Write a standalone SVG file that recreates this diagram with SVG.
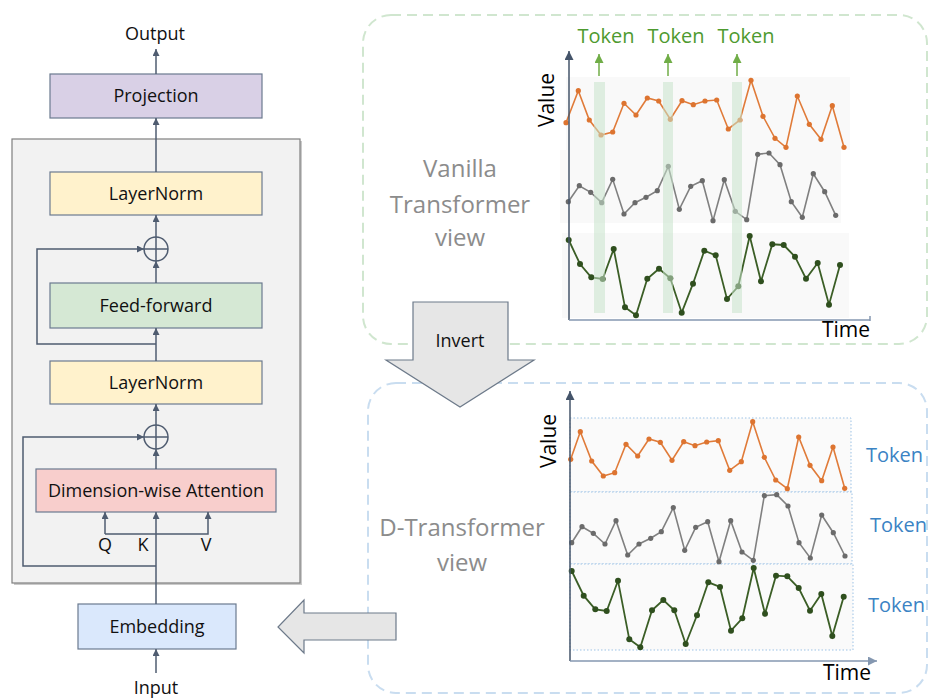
<svg xmlns="http://www.w3.org/2000/svg" width="931" height="698" viewBox="0 0 931 698">
<style>
text{font-family:"Open Sans","Liberation Sans",sans-serif;}
.lbl{font-size:18px;fill:#111;text-anchor:middle;}
.box{stroke:#6b7a8f;stroke-width:1.2;}
.con{fill:none;stroke:#4f5c70;stroke-width:1.5;}
.ax{fill:none;stroke:#44546a;stroke-width:1.5;}
.axh{fill:none;stroke:#8497b0;stroke-width:1.5;}
.view{font-size:24px;fill:#8c8c8c;text-anchor:middle;}
.tokg{font-size:20px;fill:#4e9a2f;text-anchor:middle;}
.tokb{font-size:20px;fill:#3b83c4;text-anchor:start;}
.axl{font-size:21px;fill:#000;}
.or{fill:none;stroke:#e07b39;stroke-width:1.6;}
.gr{fill:none;stroke:#808080;stroke-width:1.6;}
.gn{fill:none;stroke:#3b5e26;stroke-width:1.8;}
.pan{fill:#f9f9f9;}
.dpan{fill:#fafafa;stroke:#9dc3e6;stroke-width:1;stroke-dasharray:1.5,2;}
.band{fill:#c9e3cc;opacity:0.55;}
.bigarrow{fill:#e6e6e6;stroke:#6d7a8a;stroke-width:1.2;}
</style>
<defs>
<marker id="ah" markerUnits="userSpaceOnUse" markerWidth="8" markerHeight="8" refX="7" refY="3.5" orient="auto">
<path d="M0,0 L7,3.5 L0,7 z" fill="#4f5c70"/>
</marker>
<marker id="ahg" markerUnits="userSpaceOnUse" markerWidth="10" markerHeight="10" refX="9" refY="4.5" orient="auto">
<path d="M0,0 L9,4.5 L0,9 z" fill="#70ad47"/>
</marker>
<marker id="aha" markerUnits="userSpaceOnUse" markerWidth="10" markerHeight="10" refX="9" refY="4.5" orient="auto">
<path d="M0,0 L9,4.5 L0,9 z" fill="#44546a"/>
</marker>
<marker id="ahh" markerUnits="userSpaceOnUse" markerWidth="10" markerHeight="10" refX="9" refY="4.5" orient="auto">
<path d="M0,0 L9,4.5 L0,9 z" fill="#8497b0"/>
</marker>
<marker id="dO" markerUnits="userSpaceOnUse" markerWidth="6" markerHeight="6" refX="3" refY="3"><circle cx="3" cy="3" r="2.6" fill="#dd7430"/></marker>
<marker id="dG" markerUnits="userSpaceOnUse" markerWidth="6" markerHeight="6" refX="3" refY="3"><circle cx="3" cy="3" r="2.6" fill="#6b6b6b"/></marker>
<marker id="dN" markerUnits="userSpaceOnUse" markerWidth="7" markerHeight="7" refX="3.5" refY="3.5"><circle cx="3.5" cy="3.5" r="3" fill="#2f4f1e"/></marker>
</defs>

<!-- dashed view boxes -->
<rect id="vanilla-frame" x="363" y="15" width="564" height="329" rx="28" fill="none" stroke="#d0e6cf" stroke-width="2" stroke-dasharray="10,6"/>
<rect id="dtrans-frame" x="368" y="383" width="559" height="310" rx="28" fill="none" stroke="#c9ddf0" stroke-width="2" stroke-dasharray="10,6"/>

<!-- outer block -->
<rect x="14" y="141" width="288" height="444" fill="#a6a6a6" opacity="0.6"/>
<rect id="encoder-block" x="12" y="139" width="288" height="444" fill="#f2f2f2" stroke="#7f7f7f" stroke-width="1.2"/>

<g id="output"><text class="lbl" x="155" y="40">Output</text></g>
<g id="projection"><rect class="box" x="50" y="74" width="212" height="44" fill="#d9d0e6"/><text class="lbl" x="156" y="102">Projection</text></g>
<g id="layernorm1"><rect class="box" x="50" y="172" width="212" height="43" fill="#fff2cc"/><text class="lbl" x="156" y="200">LayerNorm</text></g>
<g id="add1"><circle cx="156" cy="249" r="12" fill="none" stroke="#4f5c70" stroke-width="1.5"/><path d="M144,249 H168 M156,237 V261" stroke="#4f5c70" stroke-width="1.5"/></g>
<g id="feedforward"><rect class="box" x="50" y="283" width="212" height="45" fill="#d5e8d4"/><text class="lbl" x="156" y="312">Feed-forward</text></g>
<g id="layernorm2"><rect class="box" x="50" y="361" width="212" height="43" fill="#fff2cc"/><text class="lbl" x="156" y="389">LayerNorm</text></g>
<g id="add2"><circle cx="156" cy="437" r="12" fill="none" stroke="#4f5c70" stroke-width="1.5"/><path d="M144,437 H168 M156,425 V449" stroke="#4f5c70" stroke-width="1.5"/></g>
<g id="attention"><rect class="box" x="36" y="469" width="240" height="43" fill="#f8cecc"/><text class="lbl" x="156" y="497">Dimension-wise Attention</text></g>
<g id="qkv"><text class="lbl" x="105" y="551">Q</text><text class="lbl" x="143" y="551">K</text><text class="lbl" x="206" y="551">V</text></g>
<g id="embedding"><rect class="box" x="78" y="604" width="158" height="45" fill="#dae8fc"/><text class="lbl" x="157" y="633">Embedding</text></g>
<g id="input"><text class="lbl" x="156" y="694">Input</text></g>

<g id="connectors">
<line class="con" x1="156" y1="74" x2="156" y2="49" marker-end="url(#ah)"/>
<line class="con" x1="156" y1="172" x2="156" y2="118" marker-end="url(#ah)"/>
<line class="con" x1="156" y1="237" x2="156" y2="215" marker-end="url(#ah)"/>
<line class="con" x1="156" y1="283" x2="156" y2="261" marker-end="url(#ah)"/>
<line class="con" x1="156" y1="361" x2="156" y2="328" marker-end="url(#ah)"/>
<polyline class="con" points="156,344 37,344 37,249 144,249" marker-end="url(#ah)"/>
<line class="con" x1="156" y1="425" x2="156" y2="404" marker-end="url(#ah)"/>
<line class="con" x1="156" y1="469" x2="156" y2="449" marker-end="url(#ah)"/>
<line class="con" x1="156" y1="604" x2="156" y2="512" marker-end="url(#ah)"/>
<polyline class="con" points="156,566 23,566 23,437 144,437" marker-end="url(#ah)"/>
<line class="con" x1="105" y1="534" x2="105" y2="512" marker-end="url(#ah)" stroke="#7d8797"/>
<polyline class="con" points="105,534 208,534 208,512" marker-end="url(#ah)" stroke="#7d8797"/>
<line class="con" x1="156" y1="673" x2="156" y2="649" marker-end="url(#ah)"/>
</g>

<!-- big arrows -->
<g id="invert-arrow"><path class="bigarrow" d="M413,302 H508 V360 H534 L460,407 L386,360 H413 Z"/><text class="lbl" x="460" y="347">Invert</text></g>
<g id="back-arrow"><path class="bigarrow" d="M396,613 H304 V600 L278,627 L304,653 V640 H396 Z"/></g>

<!-- view labels -->
<g id="vanilla-label"><text class="view" x="460" y="177">Vanilla</text><text class="view" x="460" y="213">Transformer</text><text class="view" x="460" y="246">view</text></g>
<g id="dtrans-label"><text class="view" x="462" y="536">D-Transformer</text><text class="view" x="462" y="571">view</text></g>

<!-- top chart -->
<g id="vanilla-chart">
<rect class="pan" x="566" y="77" width="284" height="73"/>
<rect class="pan" x="560" y="150" width="281" height="73"/>
<rect class="pan" x="562" y="233" width="287" height="85"/>
<polyline class="or" marker-start="url(#dO)" marker-mid="url(#dO)" marker-end="url(#dO)" points="566,122.7 578.3,90.7 589.3,120 601,135 612.7,132 624,103.3 636,115 647.3,98 658.7,101 670.3,119.3 682,100.7 693.3,104.7 705,101 716.7,100 728.3,129 740,120 751,80.3 763,116.3 775,138.3 786,147.3 797.3,96 809.3,124.3 821,139.3 832.3,105.7 844,147.3"/>
<polyline class="gr" marker-start="url(#dG)" marker-mid="url(#dG)" marker-end="url(#dG)" points="568.3,201.7 579.3,185.7 590.7,192.3 601.7,202.7 612.7,179.3 624,214 635,202.7 646,197.3 657.3,190.7 668.3,166.3 679.3,209.3 690.7,186.3 702.3,180.7 713,220.7 724.3,179.7 735.3,211.3 746.7,219.7 757.7,154.3 769,153 780,164.7 791.3,201.7 802.3,217.3 813.3,173.7 824.7,191.7 835.7,215.3"/>
<polyline class="gn" marker-start="url(#dN)" marker-mid="url(#dN)" marker-end="url(#dN)" points="568.7,240 580,264 591.3,277.3 602.7,279 613.7,249 625,307.3 636,315.3 647.3,278.7 659,268.7 670.3,278.3 681.7,312.7 693,283.7 704.3,250.7 715.7,255.3 727,299 738.3,286.3 749.7,236 761,281.3 772.3,244.3 783.7,245 795,256.7 806,278.7 817.7,263 829,304.7 840,265"/>
<rect class="band" x="594" y="82" width="11" height="231"/>
<rect class="band" x="663" y="82" width="10" height="231"/>
<rect class="band" x="732" y="82" width="10" height="231"/>
<line class="ax" x1="569" y1="320" x2="569" y2="51" marker-end="url(#aha)"/>
<line class="axh" x1="569" y1="320" x2="870" y2="320"/>
<line x1="870" y1="316" x2="870" y2="321" stroke="#8497b0" stroke-width="1.5"/>
<line stroke="#70ad47" stroke-width="1.5" x1="599" y1="76" x2="599" y2="54" marker-end="url(#ahg)"/>
<line stroke="#70ad47" stroke-width="1.5" x1="668" y1="76" x2="668" y2="54" marker-end="url(#ahg)"/>
<line stroke="#70ad47" stroke-width="1.5" x1="737" y1="76" x2="737" y2="54" marker-end="url(#ahg)"/>
<text class="tokg" x="606" y="43">Token</text>
<text class="tokg" x="676" y="43">Token</text>
<text class="tokg" x="746" y="43">Token</text>
<text class="axl" x="0" y="0" transform="translate(554,100) rotate(-90)" text-anchor="middle">Value</text>
<text class="axl" x="822" y="337">Time</text>
</g>

<!-- bottom chart -->
<g id="dtrans-chart">
<rect class="dpan" x="570" y="418" width="281" height="74"/>
<rect class="dpan" x="570" y="492" width="282" height="72"/>
<rect class="dpan" x="570" y="564" width="283" height="86"/>
<polyline class="or" marker-start="url(#dO)" marker-mid="url(#dO)" marker-end="url(#dO)" points="570.7,459.3 580.3,431.7 591.7,461 603.3,476 614.7,472.7 626,444.3 637.7,456 649,439 660.3,442.3 672,460.3 683.7,441.7 695,445.7 706.7,442 718.3,440.7 729.7,470.3 741.3,461.7 752.7,421.7 764.3,457.3 775.7,480 787.3,488.7 798.7,437 810,465.3 821.7,480.7 833,447 844.7,488.3"/>
<polyline class="gr" marker-start="url(#dG)" marker-mid="url(#dG)" marker-end="url(#dG)" points="571.7,542.7 582,526.7 593.3,533.3 605,544 616,520.7 627.7,555 639,544 650.7,538.3 661.3,531.7 673.3,507.7 684.7,550.3 695.7,527.3 707.7,521.7 719,561.7 730.7,520.7 742,552 753.3,560.3 764.3,495.7 776.7,494.7 788,506 799,542.7 810.3,558 821.7,515 833.3,532.7 845,556"/>
<polyline class="gn" marker-start="url(#dN)" marker-mid="url(#dN)" marker-end="url(#dN)" points="571.7,571 583.7,595.7 595.3,609.3 606.7,611 618,580.7 629.3,639.3 640.3,647.3 652,610.3 663.3,600 674.3,610.3 685.7,644 697,615.3 708.3,582.3 720,587 731,630.7 742.3,618.3 753.7,568 765,613.7 776,575.7 787.3,576.3 798.7,588 810,610.7 821.3,594 832.3,636 843.7,596.7"/>
<line class="ax" x1="570" y1="661" x2="570" y2="391" marker-end="url(#aha)"/>
<line class="axh" x1="570" y1="661" x2="877" y2="661" marker-end="url(#ahh)"/>
<text class="tokb" x="866" y="462">Token</text>
<text class="tokb" x="870" y="532">Token</text>
<text class="tokb" x="868" y="612">Token</text>
<text class="axl" x="0" y="0" transform="translate(556,441) rotate(-90)" text-anchor="middle">Value</text>
<text class="axl" x="823" y="680">Time</text>
</g>
</svg>
